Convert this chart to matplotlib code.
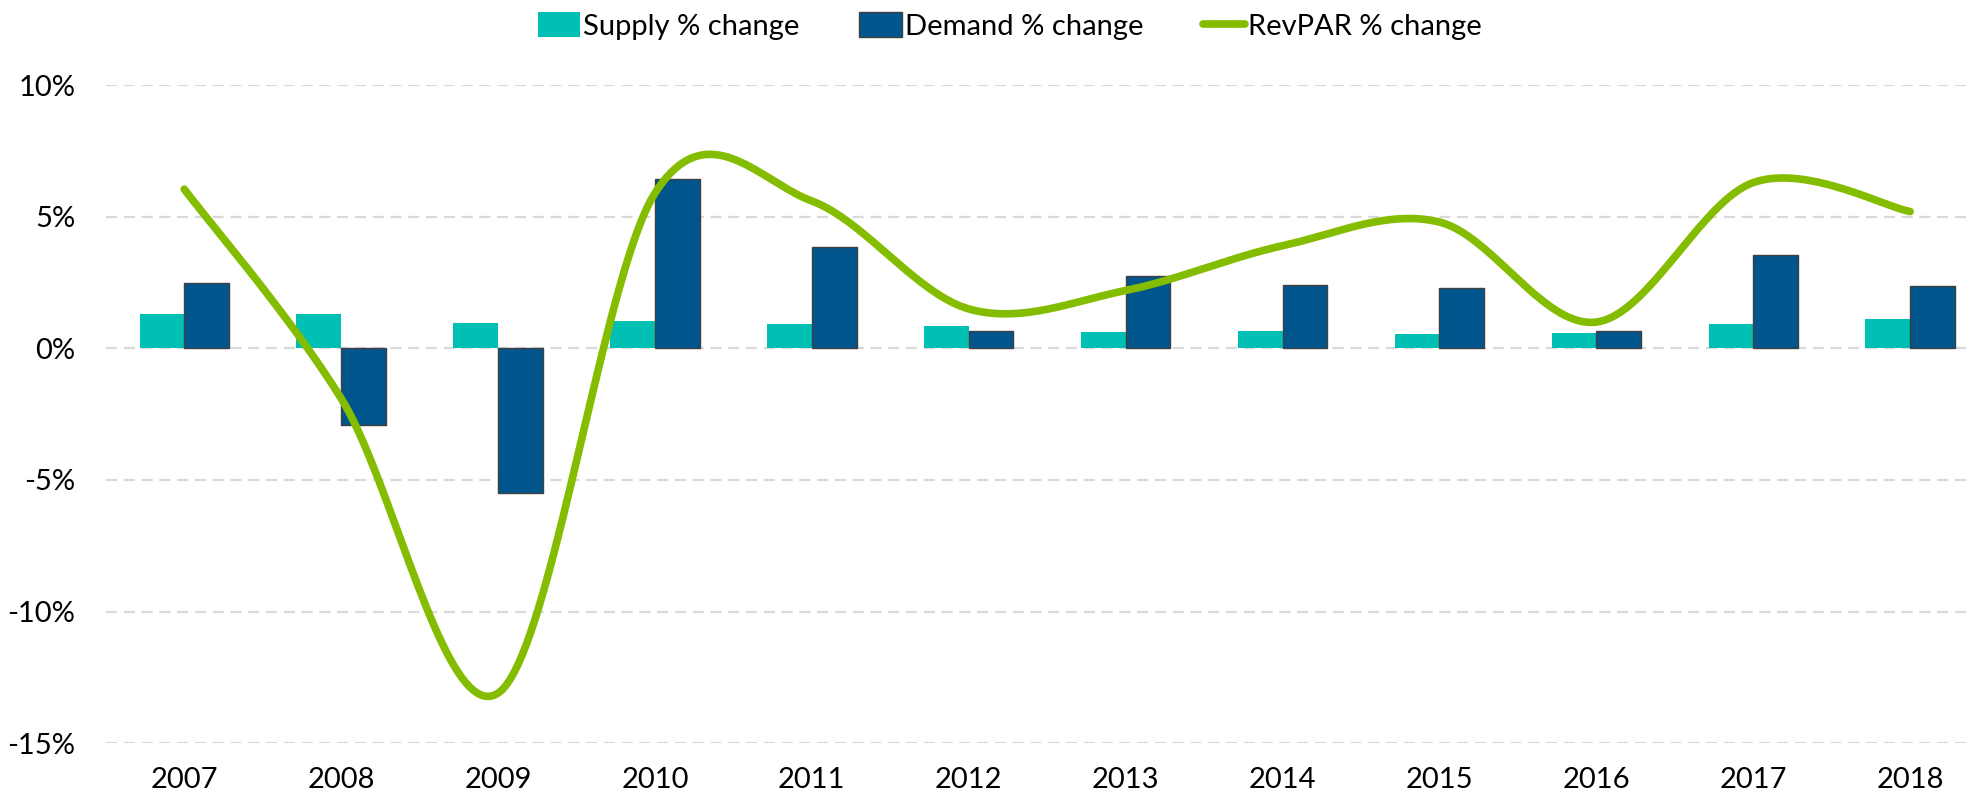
import numpy as np
import matplotlib.pyplot as plt
from matplotlib.patches import Patch
from matplotlib.lines import Line2D
from matplotlib.ticker import FuncFormatter

plt.rcParams['font.family'] = ['Lato', 'DejaVu Sans']

years = ['2007', '2008', '2009', '2010', '2011', '2012',
         '2013', '2014', '2015', '2016', '2017', '2018']
supply = [1.30, 1.30, 0.98, 1.05, 0.94, 0.84, 0.63, 0.67, 0.54, 0.59, 0.92, 1.11]
demand = [2.48, -2.92, -5.49, 6.44, 3.86, 0.67, 2.74, 2.40, 2.29, 0.67, 3.55, 2.37]
revpar = [6.05, -1.9, -13.1, 5.9, 5.6, 1.5, 2.2, 3.9, 4.8, 1.0, 6.3, 5.2]

c_supply = '#00BFB3'
c_demand = '#00558C'
c_revpar = '#84BD00'


def smooth(xs, ys, n=40):
    # catmull-rom like excel "smoothed line"
    xs = np.asarray(xs, float)
    ys = np.asarray(ys, float)
    px = np.concatenate([[xs[0]], xs, [xs[-1]]])
    py = np.concatenate([[ys[0]], ys, [ys[-1]]])
    outx, outy = [], []
    for i in range(1, len(px) - 2):
        t = np.linspace(0, 1, n)
        mx0 = (px[i + 1] - px[i - 1]) / 2
        mx1 = (px[i + 2] - px[i]) / 2
        my0 = (py[i + 1] - py[i - 1]) / 2
        my1 = (py[i + 2] - py[i]) / 2
        h00 = 2 * t**3 - 3 * t**2 + 1
        h10 = t**3 - 2 * t**2 + t
        h01 = -2 * t**3 + 3 * t**2
        h11 = t**3 - t**2
        outx.append(h00 * px[i] + h10 * mx0 + h01 * px[i + 1] + h11 * mx1)
        outy.append(h00 * py[i] + h10 * my0 + h01 * py[i + 1] + h11 * my1)
    return np.concatenate(outx), np.concatenate(outy)


fig = plt.figure(figsize=(19.74, 8), dpi=100)
ax = fig.add_axes([105.8 / 1974, 0.071, 1 - 105.8 / 1974, 0.8225])

x = np.arange(len(years))
w = 0.285
ax.bar(x - w / 2, supply, w, color=c_supply, zorder=2)
ax.bar(x + w / 2, demand, w, color=c_demand, edgecolor='#404040', linewidth=1.0, zorder=2)
sx, sy = smooth(x, revpar)
ax.plot(sx, sy, color=c_revpar, lw=5.5, solid_capstyle='round', zorder=3)

ax.set_ylim(-15, 10)
ax.set_xlim(-0.5, 11.407)
ax.set_yticks([-15, -10, -5, 0, 5, 10])
ax.yaxis.set_major_formatter(FuncFormatter(lambda v, p: f'{v:.0f}%'))
ax.set_xticks(x)
ax.set_xticklabels(years)
ax.tick_params(axis='both', length=0, labelsize=21, colors='black')
ax.tick_params(axis='y', pad=22)
ax.tick_params(axis='x', pad=17)
ax.yaxis.grid(True, color='#D9D9D9', linewidth=1.6, linestyle=(0, (5, 3)), zorder=0)
ax.set_axisbelow(True)
for s in ax.spines.values():
    s.set_visible(False)

handles = [Patch(facecolor=c_supply, edgecolor='none'),
           Patch(facecolor=c_demand, edgecolor='#404040', linewidth=1.0),
           Line2D([0], [0], color=c_revpar, lw=5.5, solid_capstyle='round')]
fig.legend(handles, ['Supply % change', 'Demand % change', 'RevPAR % change'],
           loc='center', bbox_to_anchor=(1010 / 1974, 1 - 26 / 800), ncol=3,
           frameon=False, fontsize=21, handlelength=1.45, handleheight=0.95,
           handletextpad=0.1, columnspacing=2.05)

fig.savefig('out.png', dpi=100)
